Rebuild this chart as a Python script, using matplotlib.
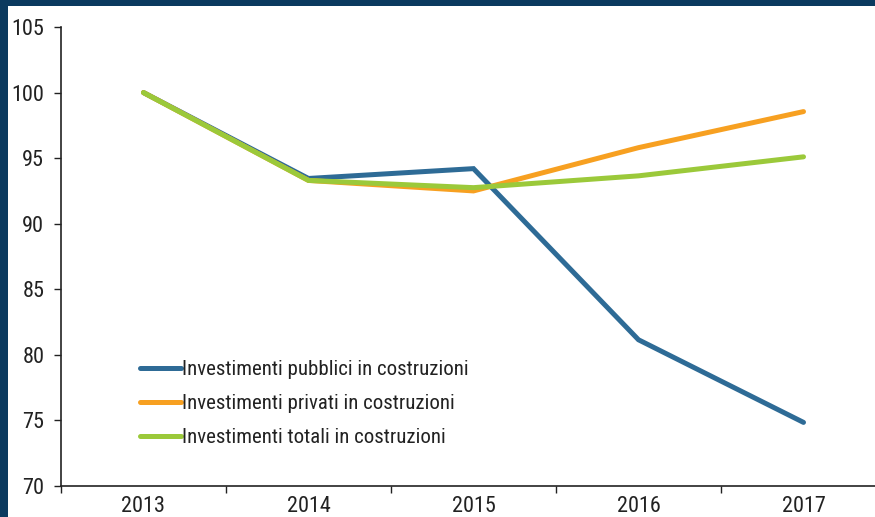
import matplotlib
matplotlib.use("Agg")
import matplotlib.pyplot as plt
from matplotlib.patches import Rectangle
from matplotlib.ticker import FixedLocator

years = ["2013", "2014", "2015", "2016", "2017"]
pubblici = [100, 93.45, 94.2, 81.15, 74.85]
privati = [100, 93.3, 92.5, 95.8, 98.55]
totali = [100, 93.3, 92.75, 93.65, 95.1]
labels = ["Investimenti pubblici in costruzioni",
          "Investimenti privati in costruzioni",
          "Investimenti totali in costruzioni"]
colors = ["#2e6b96", "#f7a021", "#9bc93a"]
yticks = [70, 75, 80, 85, 90, 95, 100, 105]

plt.rcParams['font.family'] = ['Roboto Condensed', 'DejaVu Sans']
plt.rcParams['font.stretch'] = 'condensed'

W, H = 875, 517
fig = plt.figure(figsize=(W/100, H/100), dpi=100)
fig.patch.set_facecolor("#0b3a5f")
fig.patches.append(Rectangle((8/W, 0), 1, (H-6)/H, transform=fig.transFigure,
                             facecolor="white", edgecolor="none", zorder=-5))

x0, y_bottom, y_top = 61, 486, 27
step = 165
ax = fig.add_axes([x0/W, (H-y_bottom)/H, (5*step)/W, (y_bottom-y_top)/H])
ax.set_facecolor("none")
ax.set_zorder(2)

xs = list(range(len(years)))
for vals, c, lab in zip([pubblici, privati, totali], colors, labels):
    ax.plot(xs, vals, color=c, lw=3.6, label=lab, solid_capstyle="round",
            solid_joinstyle="miter")

ax.set_xlim(-0.5, 4.5)
ax.set_ylim(70, 105)
ax.set_yticks(yticks)
ax.set_xticks(xs)
ax.set_xticklabels(years)
ax.xaxis.set_minor_locator(FixedLocator([i - 0.5 for i in range(6)]))
ax.tick_params(axis="x", which="major", length=0, labelsize=16, pad=7, colors="#222222")
ax.tick_params(axis="x", which="minor", length=5, width=1, direction="out", color="#222222")
ax.tick_params(axis="y", length=5, width=1, labelsize=16, pad=7, colors="#222222")
for s in ["top", "right"]:
    ax.spines[s].set_visible(False)
for s in ["left", "bottom"]:
    ax.spines[s].set_color("#222222")
    ax.spines[s].set_linewidth(1.2)

leg = ax.legend(loc="upper left", bbox_to_anchor=((132 - x0)/(5*step), (y_bottom-352)/(y_bottom-y_top)),
                frameon=False, fontsize=15, handlelength=1.95, handletextpad=0.05,
                labelspacing=0.72, borderaxespad=0)
for t in leg.get_texts():
    t.set_color("#222222")

fig.savefig("out.png", dpi=100, facecolor=fig.get_facecolor())
